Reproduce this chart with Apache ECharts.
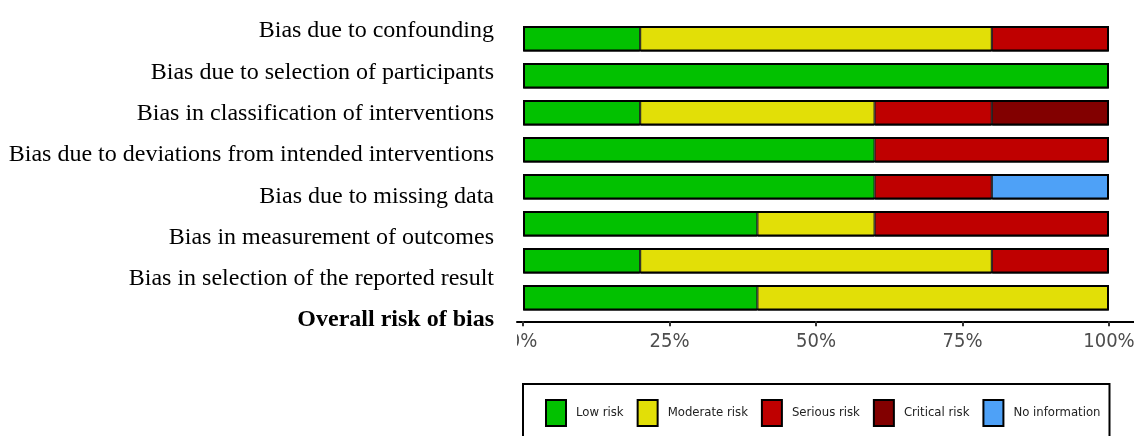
<!DOCTYPE html>
<html><head><meta charset="utf-8">
<script src="https://cdn.jsdelivr.net/npm/echarts@6/dist/echarts.min.js"></script>
<style>html,body{margin:0;padding:0;background:#fff}#c{width:1134px;height:436px}</style>
</head><body><div id="c"></div>
<script>
const domains = [
  'Bias due to confounding',
  'Bias due to selection of participants',
  'Bias in classification of interventions',
  'Bias due to deviations from intended interventions',
  'Bias due to missing data',
  'Bias in measurement of outcomes',
  'Bias in selection of the reported result',
  'Overall risk of bias'
];
const low      = [20, 100, 20, 60, 60, 40, 20, 40];
const moderate = [60,   0, 40,  0,  0, 20, 60, 60];
const serious  = [20,   0, 20, 40, 20, 40, 20,  0];
const critical = [ 0,   0, 20,  0,  0,  0,  0,  0];
const noInfo   = [ 0,   0,  0,  0, 20,  0,  0,  0];
const total    = [100, 100, 100, 100, 100, 100, 100, 100];
const tickValues = [0, 25, 50, 75, 100];
const riskNames = ['Low risk', 'Moderate risk', 'Serious risk', 'Critical risk', 'No information'];
const riskColors = ['#02C100', '#E2DF07', '#BF0000', '#820000', '#4EA1F7'];
const riskData = [low, moderate, serious, critical, noInfo];

const narrow = '"Liberation Sans Narrow", "DejaVu Sans Condensed", "Liberation Sans", sans-serif';
const serif = '"Liberation Serif", "Times New Roman", serif';

const chart = echarts.init(document.getElementById('c'), null, {renderer: 'canvas'});

const series = riskNames.map((name, i) => ({
  name: name,
  type: 'bar',
  stack: 'risk',
  xAxisIndex: 0,
  yAxisIndex: 0,
  barWidth: 25.5,
  barGap: '-100%',
  silent: true,
  itemStyle: {color: riskColors[i], borderColor: '#111', borderWidth: 1},
  data: riskData[i].map(v => v === 0 ? '-' : v)
}));
series.push({
  name: 'outline',
  type: 'bar',
  xAxisIndex: 0,
  yAxisIndex: 0,
  barWidth: 25.5,
  barGap: '-100%',
  silent: true,
  z: 5,
  itemStyle: {color: 'rgba(0,0,0,0)', borderColor: '#000', borderWidth: 2},
  data: total
});

chart.setOption({
  animation: false,
  backgroundColor: '#fff',
  grid: [
    {left: 517, right: 0, top: 20.25, height: 296, containLabel: false, outerBoundsMode: 'none'},
    {left: 500, width: 10, top: 10.4, height: 330.4, containLabel: false, outerBoundsMode: 'none'}
  ],
  xAxis: [
    {
      type: 'value', gridIndex: 0,
      min: -6 / 5.86, max: 611 / 5.86,
      offset: 5,
      axisLine: {show: true, onZero: false, lineStyle: {color: '#000', width: 2}},
      axisTick: {show: true, customValues: tickValues, length: 5, lineStyle: {color: '#333', width: 2}},
      axisLabel: {customValues: tickValues, formatter: v => v + '%', color: '#4D4D4D',
        fontFamily: narrow, fontSize: 20, margin: 11},
      splitLine: {show: false}
    },
    {type: 'value', gridIndex: 1, show: false}
  ],
  yAxis: [
    {
      type: 'category', gridIndex: 0, inverse: true, data: domains,
      axisLine: {show: false}, axisTick: {show: false}, axisLabel: {show: false}, splitLine: {show: false}
    },
    {
      type: 'category', gridIndex: 1, inverse: true, data: domains,
      axisLine: {show: false}, axisTick: {show: false}, splitLine: {show: false},
      axisLabel: {
        margin: 6, color: '#000', fontFamily: serif, fontSize: 24,
        formatter: (v, i) => i === domains.length - 1 ? '{b|' + v + '}' : v,
        rich: {b: {fontWeight: 'bold', fontFamily: serif, fontSize: 24, color: '#000'}}
      }
    }
  ],
  legend: {
    data: riskNames,
    left: 523, top: 384,
    width: 700,
    orient: 'horizontal',
    padding: [15, 9, 40, 22],
    borderColor: '#000', borderWidth: 2,
    itemWidth: 20, itemHeight: 26, itemGap: 13,
    icon: 'rect',
    selectedMode: false,
    itemStyle: {borderColor: '#000', borderWidth: 2},
    textStyle: {fontFamily: narrow, fontSize: 13, color: '#222', padding: [0, 0, 0, 5]}
  },
  graphic: [
    {type: 'rect', left: 500, top: 326, z: 100, shape: {width: 17, height: 28}, style: {fill: '#fff'}}
  ],
  series: series
});
</script></body></html>
